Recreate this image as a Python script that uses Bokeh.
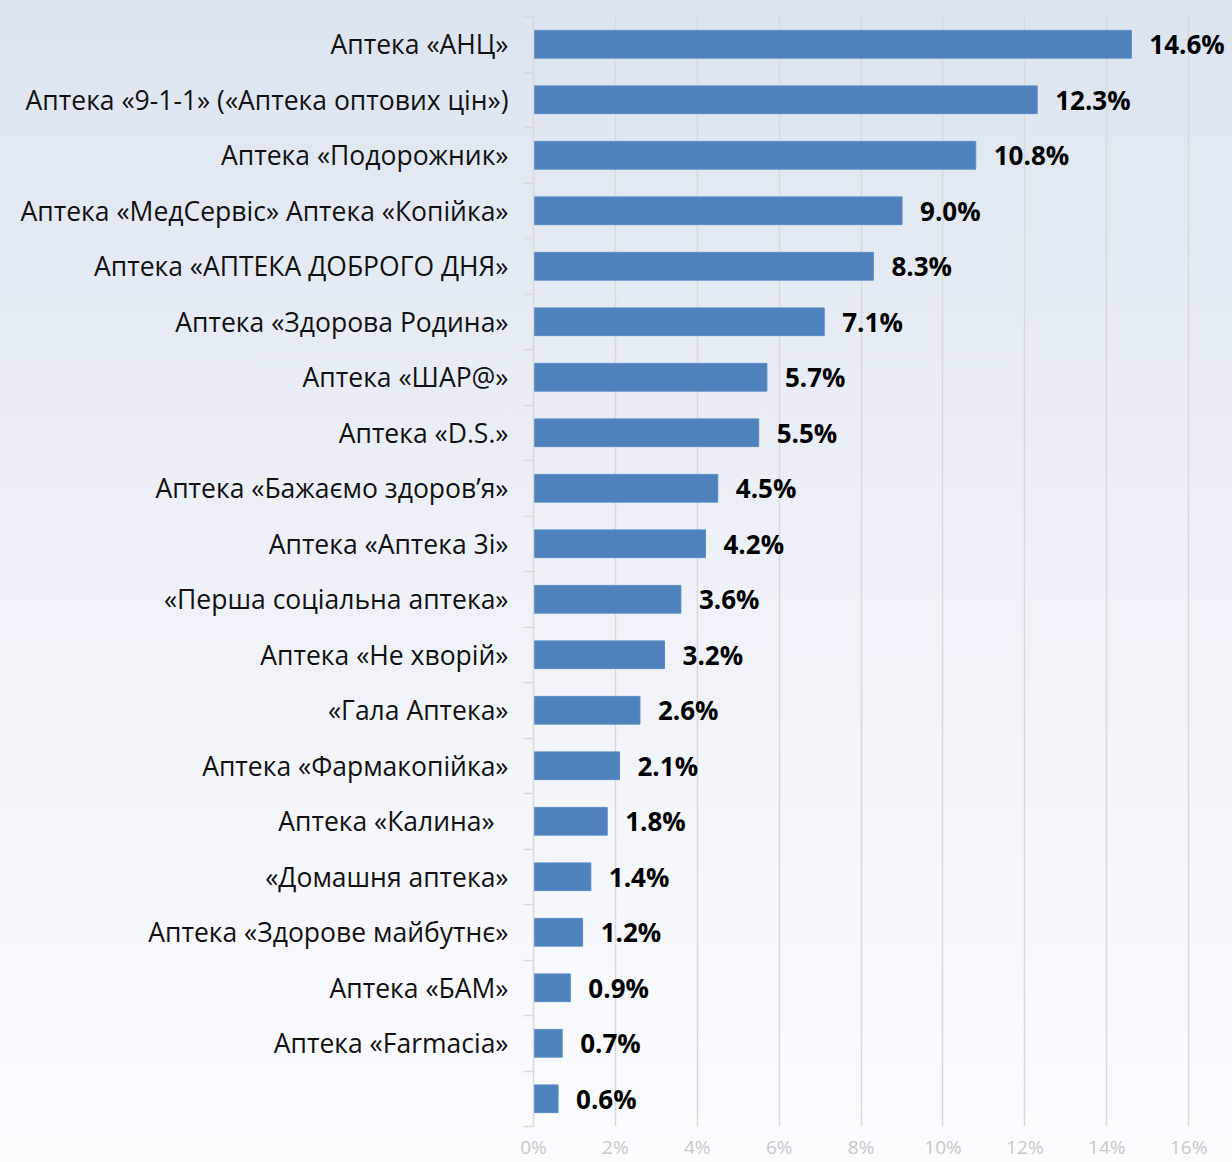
from bokeh.plotting import figure
from bokeh.models import Range1d, FixedTicker, ColumnDataSource
from bokeh.embed import file_html
from bokeh.resources import INLINE
from bokeh.core.properties import value

pharmacies = [
    "Аптека «АНЦ»",
    "Аптека «9-1-1» («Аптека оптових цін»)",
    "Аптека «Подорожник»",
    "Аптека «МедСервіс» Аптека «Копійка»",
    "Аптека «АПТЕКА ДОБРОГО ДНЯ»",
    "Аптека «Здорова Родина»",
    "Аптека «ШАР@»",
    "Аптека «D.S.»",
    "Аптека «Бажаємо здоров’я»",
    "Аптека «Аптека 3і»",
    "«Перша соціальна аптека»",
    "Аптека «Не хворій»",
    "«Гала Аптека»",
    "Аптека «Фармакопійка»",
    "Аптека «Калина»\u00a0\u00a0",
    "«Домашня аптека»",
    "Аптека «Здорове майбутнє»",
    "Аптека «БАМ»",
    "Аптека «Farmacia»",
    "",
]
shares = [14.6, 12.3, 10.8, 9.0, 8.3, 7.1, 5.7, 5.5, 4.5, 4.2,
          3.6, 3.2, 2.6, 2.1, 1.8, 1.4, 1.2, 0.9, 0.7, 0.6]
share_labels = [f"{v:.1f}%" for v in shares]
x_ticks = [0, 2, 4, 6, 8, 10, 12, 14, 16]
x_tick_labels = ["0%", "2%", "4%", "6%", "8%", "10%", "12%", "14%", "16%"]

n = len(pharmacies)
centers = [i + 0.5 for i in range(n)]
bounds = list(range(n + 1))

src = ColumnDataSource(dict(pos=centers, share=shares, lab=share_labels))

FONT = "Open Sans"
GRID = "#d9d9d9"

p = figure(width=1232, height=1162,
           x_range=Range1d(0, 17.07), y_range=Range1d(n, 0),
           output_backend="svg", toolbar_location=None,
           min_border_left=533, min_border_right=0,
           min_border_top=16, min_border_bottom=36,
           background_fill_color=None, border_fill_color=None,
           outline_line_color=None)
p.styles = {"background": "linear-gradient(to bottom, #dce4f0 0%, #eef2f8 50%, #fbfcfe 100%)"}

p.hbar(y="pos", left=0, right="share", height=0.5, source=src,
       fill_color="#4f81bd", line_color="#5b8cc6", line_width=1)

p.text(x="share", y="pos", text="lab", source=src, x_offset=18,
       text_baseline="middle", text_align="left",
       text_font=value(FONT), text_font_style="bold",
       text_font_size="26px", text_color="black")

xa = p.xaxis[0]
xa.ticker = FixedTicker(ticks=x_ticks)
xa.major_label_overrides = {t: l for t, l in zip(x_ticks, x_tick_labels)}
xa.axis_line_color = None
xa.major_tick_line_color = None
xa.minor_tick_line_color = None
xa.major_tick_out = 0
xa.major_tick_in = 0
xa.major_label_text_color = "#c8c8c8"
xa.major_label_text_font = FONT
xa.major_label_text_font_size = "19px"
xa.major_label_text_line_height = 0.8
xa.major_label_standoff = 7

p.xgrid.ticker = FixedTicker(ticks=x_ticks)
p.xgrid.grid_line_color = GRID
p.xgrid.grid_line_width = 1.5
p.ygrid.grid_line_color = None

ya = p.yaxis[0]
ya.ticker = FixedTicker(ticks=centers, minor_ticks=bounds)
ya.major_label_overrides = {c: name for c, name in zip(centers, pharmacies)}
ya.major_tick_line_color = None
ya.major_tick_out = 0
ya.major_tick_in = 0
ya.minor_tick_out = 10
ya.minor_tick_in = 0
ya.minor_tick_line_color = GRID
ya.minor_tick_line_width = 1.5
ya.axis_line_color = GRID
ya.axis_line_width = 1.5
ya.major_label_standoff = 15
ya.major_label_text_font = FONT
ya.major_label_text_font_size = "26.5px"
ya.major_label_text_color = "#111111"

open("out.html", "w").write(file_html(p, INLINE))
